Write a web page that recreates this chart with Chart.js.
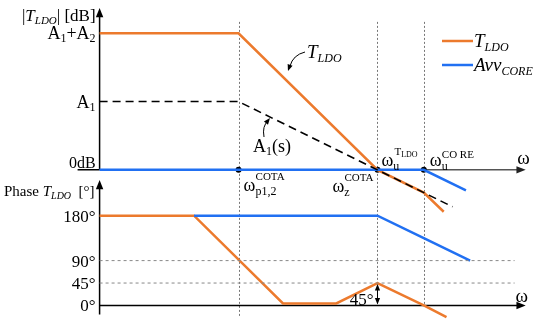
<!DOCTYPE html>
<html>
<head>
<meta charset="utf-8">
<script src="https://cdn.jsdelivr.net/npm/chart.js@4/dist/chart.umd.min.js"></script>
<style>
  html, body { margin: 0; padding: 0; background: #fff; }
  #wrap { width: 550px; height: 329px; position: relative; }
</style>
</head>
<body>
<div id="wrap"><canvas id="bode"></canvas></div>
<script>
(function () {
    'use strict';

    // x in decades of ω (0 = vertical axis)
    const wMarks   = [3, 6, 7];            // ωp1,2 COTA, ωz COTA = ωu TLDO, ωu CORE
    const magX_T   = [0, 3, 6, 7, 7.43];
    const magT     = [60, 60, 0, -10, -18.4];
    const magX_A1  = [0, 3, 6, 7.62];
    const magA1    = [30, 30, 0, -16.2];
    const magX_C   = [0, 7, 7.91];
    const magC     = [0, 0, -9];
    const phX_T    = [0, 2.04, 3.96, 5.11, 6, 7, 7.49];
    const phT      = [180, 180, 4, 4, 45, 0, -23.5];
    const phX_C    = [2.04, 6, 7, 8.0];
    const phC      = [180, 180, 135, 90];
    const phGrid   = [90, 45];
    const magTicks = [60, 30, 0];
    const phTicks  = [180, 90, 45, 0];

    const ORANGE = '#ec7a2d';
    const BLUE   = '#2170f2';
    const SERIF  = '"Liberation Serif", "DejaVu Serif", serif';

    const pts = (xs, ys) => xs.map((x, i) => ({ x, y: ys[i] }));
    const line = (data, color, axis, extra) => Object.assign({
        data, borderColor: color, borderWidth: 2.5, pointRadius: 0,
        showLine: true, fill: false, tension: 0, yAxisID: axis,
    }, extra || {});

    function f(size, style) { return `${style || ''} ${size}px ${SERIF}`; }

    // parts: [text, font, dy]
    function rich(ctx, parts, x, y, align) {
        let w = 0;
        parts.forEach(p => { ctx.font = p[1]; w += ctx.measureText(p[0]).width; });
        let cx = align === 'right' ? x - w : x;
        parts.forEach(p => {
            ctx.font = p[1];
            ctx.fillText(p[0], cx, y + (p[2] || 0));
            cx += ctx.measureText(p[0]).width;
        });
    }

    function head(ctx, x, y, ang, size) {
        ctx.beginPath();
        ctx.moveTo(x, y);
        ctx.lineTo(x - size * Math.cos(ang - 0.38), y - size * Math.sin(ang - 0.38));
        ctx.lineTo(x - size * Math.cos(ang + 0.38), y - size * Math.sin(ang + 0.38));
        ctx.closePath();
        ctx.fill();
    }

    const decor = {
        id: 'decor',
        beforeDatasetsDraw(chart) {
            const { ctx } = chart;
            const X = chart.scales.x, M = chart.scales.yMag, P = chart.scales.yPh;
            const x0 = X.getPixelForValue(0);
            ctx.save();
            // dotted verticals at the corner frequencies
            ctx.strokeStyle = '#777';
            ctx.lineWidth = 1;
            ctx.setLineDash([2, 2]);
            const bottoms = [-21, 0, 0];
            wMarks.forEach((w, i) => {
                const px = Math.round(X.getPixelForValue(w)) + 0.5;
                ctx.beginPath();
                ctx.moveTo(px, M.getPixelForValue(65));
                ctx.lineTo(px, P.getPixelForValue(bottoms[i]));
                ctx.stroke();
            });
            ctx.setLineDash([]);

            // axes
            const axR = X.getPixelForValue(9.2);
            ctx.strokeStyle = '#000';
            ctx.fillStyle = '#000';
            ctx.lineWidth = 1.5;
            const m0 = M.getPixelForValue(0), p0 = P.getPixelForValue(0);
            ctx.beginPath();
            ctx.moveTo(x0, m0); ctx.lineTo(x0, 14);
            ctx.moveTo(x0, P.getPixelForValue(-18)); ctx.lineTo(x0, 186);
            ctx.moveTo(x0 - 22, m0); ctx.lineTo(x0, m0);
            ctx.stroke();
            head(ctx, x0, 8, -Math.PI / 2, 10);
            head(ctx, x0, 180, -Math.PI / 2, 10);

            ctx.strokeStyle = '#555';
            ctx.beginPath(); ctx.moveTo(x0, m0); ctx.lineTo(axR - 6, m0); ctx.stroke();
            ctx.fillStyle = '#222';
            head(ctx, axR, m0, 0, 10);
            ctx.strokeStyle = '#000';
            ctx.fillStyle = '#000';
            ctx.beginPath(); ctx.moveTo(x0, p0); ctx.lineTo(axR - 6, p0); ctx.stroke();
            head(ctx, axR, p0, 0, 10);
            ctx.restore();
        },
        afterDatasetsDraw(chart) {
            const { ctx } = chart;
            const X = chart.scales.x, M = chart.scales.yMag, P = chart.scales.yPh;
            const x0 = X.getPixelForValue(0);
            ctx.save();
            ctx.fillStyle = '#000';
            ctx.strokeStyle = '#000';
            ctx.textBaseline = 'alphabetic';

            // magnitude axis labels
            rich(ctx, [['|', f(17)], ['T', f(17, 'italic')], ['LDO', f(11, 'italic'), 3],
                ['| [dB]', f(17)]], x0 - 4, 21, 'right');
            const magLab = [
                [['A', f(18)], ['1', f(12), 3], ['+A', f(18)], ['2', f(12), 3]],
                [['A', f(18)], ['1', f(12), 3]],
                [['0dB', f(16)]],
            ];
            magTicks.forEach((v, i) => rich(ctx, magLab[i], x0 - 4, M.getPixelForValue(v) + (i === 2 ? -2 : 6), 'right'));

            // phase axis labels
            rich(ctx, [['Phase ', f(15)], ['T', f(15, 'italic')], ['LDO', f(10, 'italic'), 3]], 4, 196);
            rich(ctx, [['[°]', f(15)]], x0 - 5, 196, 'right');
            phTicks.forEach(v => rich(ctx, [[v + '°', f(17)]], x0 - 4, P.getPixelForValue(v) + 6, 'right'));

            // ω labels
            const xp = X.getPixelForValue(wMarks[0]), xz = X.getPixelForValue(wMarks[1]), xc = X.getPixelForValue(wMarks[2]);
            rich(ctx, [['ω', f(18)], ['p1,2', f(12), 4]], xp + 5, 191);
            rich(ctx, [['COTA', f(11)]], xp + 17, 180);
            rich(ctx, [['ω', f(18)], ['z', f(12), 4]], xz - 45, 192);
            rich(ctx, [['COTA', f(11)]], xz - 33, 181);
            rich(ctx, [['ω', f(18)], ['u', f(12), 4]], xz + 4, 166);
            rich(ctx, [['T', f(11)], ['LDO', f(8), 2]], xz + 17, 155);
            rich(ctx, [['ω', f(18)], ['u', f(12), 4]], xc + 6, 166);
            rich(ctx, [['CO RE', f(11)]], xc + 18, 158);
            rich(ctx, [['ω', f(19)]], X.getPixelForValue(9.02), 164);
            rich(ctx, [['ω', f(19)]], X.getPixelForValue(8.98), 302);

            // A1(s) annotation with arrow
            rich(ctx, [['A', f(18)], ['1', f(12), 3], ['(s)', f(18)]], 253, 152);
            ctx.lineWidth = 1;
            ctx.beginPath();
            ctx.moveTo(264, 137);
            ctx.quadraticCurveTo(262, 126, 268, 121);
            ctx.stroke();
            head(ctx, 270, 118, -0.9, 7);

            // T_LDO annotation with arrow
            rich(ctx, [['T', f(19, 'italic')], ['LDO', f(12, 'italic'), 4]], 307, 58);
            ctx.beginPath();
            ctx.moveTo(305, 52);
            ctx.quadraticCurveTo(293, 55, 290, 66);
            ctx.stroke();
            head(ctx, 288, 71, 1.9, 7);

            // 45° double arrow
            const ax = xz, a1 = P.getPixelForValue(45), a2 = P.getPixelForValue(0);
            ctx.beginPath();
            ctx.moveTo(ax, a1 + 5); ctx.lineTo(ax, a2 - 5);
            ctx.stroke();
            head(ctx, ax, a1 + 1, -Math.PI / 2, 7);
            head(ctx, ax, a2 - 1, Math.PI / 2, 7);
            rich(ctx, [['45°', f(17)]], ax - 4, 305, 'right');

            // legend
            const lg = [[ORANGE, [['T', f(19, 'italic')], ['LDO', f(12, 'italic'), 4]], 41],
                        [BLUE, [['Avv', f(19, 'italic')], ['CORE', f(12, 'italic'), 4]], 65]];
            lg.forEach(([c, parts, y]) => {
                ctx.strokeStyle = c;
                ctx.lineWidth = 2.5;
                ctx.beginPath(); ctx.moveTo(442, y); ctx.lineTo(473, y); ctx.stroke();
                ctx.fillStyle = '#000';
                rich(ctx, parts, 474, y + 6);
            });
            ctx.restore();
        },
    };

    new Chart(document.getElementById('bode'), {
        type: 'scatter',
        data: {
            datasets: [
                ...phGrid.map(g => line(pts([0, 8.96], [g, g]), '#888', 'yPh',
                    { borderWidth: 1, borderDash: [3, 3] })),
                line(pts(magX_A1, magA1), '#000', 'yMag', { borderWidth: 1.6, borderDash: [8, 5] }),
                line(pts(magX_C, magC), BLUE, 'yMag'),
                line(pts(magX_T, magT), ORANGE, 'yMag'),
                line(pts(phX_C, phC), BLUE, 'yPh'),
                line(pts(phX_T, phT), ORANGE, 'yPh'),
                {
                    data: pts(wMarks, wMarks.map(() => 0)), yAxisID: 'yMag', showLine: false,
                    pointRadius: 3, pointBackgroundColor: '#000', pointBorderWidth: 0,
                },
            ],
        },
        options: {
            responsive: true,
            maintainAspectRatio: false,
            animation: false,
            layout: { padding: 0 },
            plugins: { legend: { display: false }, tooltip: { enabled: false } },
            scales: {
                x:    { type: 'linear', display: false, min: -97 / 47, max: 453 / 47 },
                yMag: { type: 'linear', display: false, min: -159 / (70 / 30), max: 170 / (70 / 30) },
                yPh:  { type: 'linear', display: false, min: -20 / (92 / 180), max: 309 / (92 / 180) },
            },
        },
        plugins: [decor],
    });
})();
</script>
</body>
</html>
